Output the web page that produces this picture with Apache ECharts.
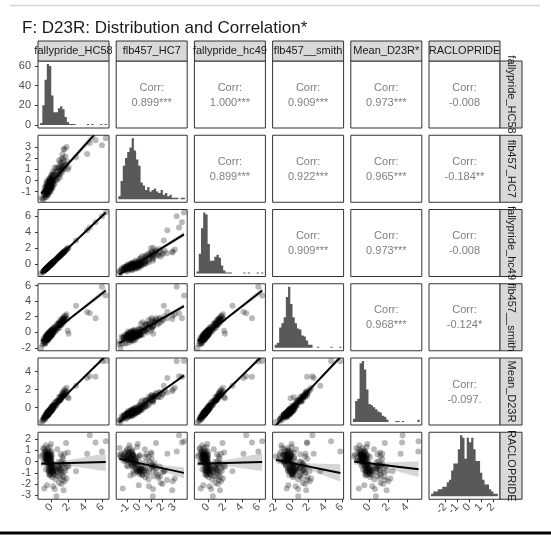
<!DOCTYPE html>
<html>
<head>
<meta charset="utf-8">
<title>F: D23R: Distribution and Correlation*</title>
<script src="https://cdn.jsdelivr.net/npm/echarts@6.0.0/dist/echarts.min.js"></script>
<style>
  html, body { margin: 0; padding: 0; background: #ffffff; }
  #chart { width: 551px; height: 539px; }
</style>
</head>
<body>
<div id="chart"></div>
<script>
// ---- Variables (one value per subject, same order in every array) ----
const fallyprideHC58 = [
  -1.20, -1.03, -0.95, -0.93, -0.86, -0.84, -0.79, -0.78, -0.74, -0.72,
  -0.70, -0.69, -0.66, -0.66, -0.64, -0.61, -0.60, -0.60, -0.57, -0.56,
  -0.55, -0.53, -0.53, -0.52, -0.50, -0.49, -0.49, -0.48, -0.47, -0.46,
  -0.45, -0.45, -0.44, -0.42, -0.42, -0.41, -0.39, -0.39, -0.38, -0.37,
  -0.36, -0.35, -0.35, -0.33, -0.32, -0.32, -0.30, -0.29, -0.29, -0.27,
  -0.26, -0.26, -0.25, -0.23, -0.22, -0.21, -0.20, -0.19, -0.19, -0.17,
  -0.16, -0.15, -0.14, -0.13, -0.13, -0.11, -0.10, -0.09, -0.08, -0.08,
  -0.06, -0.05, -0.04, -0.03, -0.02, -0.01, 0.00, 0.01, 0.02, 0.03,
  0.04, 0.05,
  0.06, 0.07, 0.10, 0.11, 0.13, 0.14, 0.16, 0.18, 0.19, 0.22,
  0.23, 0.25, 0.28, 0.29, 0.33, 0.37, 0.40, 0.46, 0.49, 0.54,
  0.59, 0.61, 0.68, 0.70, 0.76, 0.78, 0.84, 0.85, 0.90, 0.93,
  0.94, 0.99, 1.02, 1.05, 1.08, 1.09, 1.14, 1.15, 1.20, 1.23,
  1.24, 1.29, 1.31, 1.34, 1.37, 1.38, 1.43, 1.47, 1.48, 1.53,
  1.55, 1.61, 1.65, 1.73, 1.78, 1.86,
  1.93, 2.02, 2.90, 4.20, 4.52, 5.20, 5.95, 6.40
];
const flb457HC7 = [
  -1.59, -1.69, -1.04, -1.67, -1.13, -1.41, -0.60, -1.24, -0.89, -1.51,
  -0.64, -1.08, -1.29, -0.84, -0.32, -1.33, -0.87, -1.52, -0.63, -1.02,
  -0.51, -1.09, -0.04, -0.92, -0.70, -1.24, -0.34, -0.83, -1.06, -0.55,
  -1.29, -0.14, -0.73, -0.90, -0.40, -1.09, -0.52, -1.32, -0.16, -0.74,
  -0.58, -0.97, -0.27, -1.10, -0.48, -0.73, 0.14, -0.85, -0.35, -0.72,
  -0.11, -0.96, -0.45, -0.53, 0.09, -1.05, -0.19, -0.63, 0.02, -0.75,
  -0.29, -0.48, 0.28, -0.86, -0.16, -0.58, 0.03, -0.71, 0.20, -0.35,
  -0.12, -0.96, 0.05, -0.54, 0.53, -0.36, -0.10, -0.64, 0.37, -0.36,
  0.05, -0.69,
  0.17, -0.52, 0.52, -0.17, 0.11, -0.63, 0.44, -0.23, 0.83, 0.01,
  0.33, -0.35, 0.69, -0.05, 0.55, -0.31, 1.18, 0.25, 0.79, 0.10,
  1.16, 0.03, 0.82, 0.49, 1.21, 0.14, 1.11, 0.57, 1.83, 0.52,
  1.03, 0.29, 1.62, 0.91, 1.45, 0.61, 1.22, 0.88, 1.99, 1.08,
  1.59, 0.80, 2.37, 1.31, 1.99, 1.06, 2.82, 1.31, 1.78, 1.04,
  2.86, 1.43, 2.18, 1.43, 3.04, 1.73,
  1.00, 1.20, 2.10, 2.40, 3.40, 3.65, 3.20, 3.82
];
const fallyprideHc49 = [
  -1.20, -1.03, -0.95, -0.93, -0.86, -0.84, -0.79, -0.78, -0.74, -0.72,
  -0.70, -0.69, -0.66, -0.66, -0.64, -0.61, -0.60, -0.60, -0.57, -0.56,
  -0.55, -0.53, -0.53, -0.52, -0.50, -0.49, -0.49, -0.48, -0.47, -0.46,
  -0.45, -0.45, -0.44, -0.42, -0.42, -0.41, -0.39, -0.39, -0.38, -0.37,
  -0.36, -0.35, -0.35, -0.33, -0.32, -0.32, -0.30, -0.29, -0.29, -0.27,
  -0.26, -0.26, -0.25, -0.23, -0.22, -0.21, -0.20, -0.19, -0.19, -0.17,
  -0.16, -0.15, -0.14, -0.13, -0.13, -0.11, -0.10, -0.09, -0.08, -0.08,
  -0.06, -0.05, -0.04, -0.03, -0.02, -0.01, 0.00, 0.01, 0.02, 0.03,
  0.04, 0.05,
  0.06, 0.07, 0.10, 0.11, 0.13, 0.14, 0.16, 0.18, 0.19, 0.22,
  0.23, 0.25, 0.28, 0.29, 0.33, 0.37, 0.40, 0.46, 0.49, 0.54,
  0.59, 0.61, 0.68, 0.70, 0.76, 0.78, 0.84, 0.85, 0.90, 0.93,
  0.94, 0.99, 1.02, 1.05, 1.08, 1.09, 1.14, 1.15, 1.20, 1.23,
  1.24, 1.29, 1.31, 1.34, 1.37, 1.38, 1.43, 1.47, 1.48, 1.53,
  1.55, 1.61, 1.65, 1.73, 1.78, 1.86,
  1.93, 2.02, 2.90, 4.20, 4.52, 5.20, 5.95, 6.40
];
const flb457Smith = [
  -1.98, -1.53, -0.94, -1.22, -1.44, -0.67, -1.11, -1.40, -0.80, -1.48,
  -0.86, -0.59, -1.01, -1.31, -0.49, -0.70, -1.04, -0.59, -0.76, -0.29,
  -1.03, -0.56, -0.46, -0.90, -0.73, -0.31, -1.01, -0.55, -0.74, -0.33,
  -0.77, -0.47, -1.01, -0.18, -0.58, -0.37, -0.80, -0.60, -0.29, -0.98,
  -0.41, -0.15, -0.70, -0.58, -0.02, -0.77, -0.30, -0.43, -0.78, -0.11,
  -0.55, -0.30, 0.01, -0.61, -0.30, -0.39, -0.08, -0.72, -0.12, 0.05,
  -0.48, -0.17, -0.36, -0.10, -0.55, 0.22, -0.22, -0.35, 0.11, -0.54,
  -0.07, 0.09, -0.40, -0.18, 0.23, -0.31, 0.05, -0.49, 0.12, 0.33,
  -0.20, 0.01,
  -0.28, 0.23, 0.12, -0.32, 0.40, -0.04, 0.23, -0.19, 0.42, 0.00,
  0.61, 0.14, -0.03, 0.43, 0.38, 0.13, 0.71, 0.33, 0.71, 0.17,
  0.73, 0.45, 1.08, 0.46, 0.87, 1.10, 0.57, 1.08, 1.29, 0.92,
  0.58, 1.29, 1.17, 0.91, 1.59, 1.00, 1.36, 0.97, 1.58, 1.31,
  0.98, 1.58, 1.81, 1.29, 1.58, 1.84, 1.69, 1.29, 1.85, 1.61,
  2.13, 1.50, 2.10, 1.79, 2.30, 1.69,
  0.20, -0.20, 3.40, 2.60, 2.45, 1.80, 5.83, 4.70
];
const meanD23R = [
  -1.58, -1.48, -1.11, -1.35, -1.22, -1.08, -0.96, -1.20, -0.93, -1.27,
  -0.86, -0.90, -1.05, -1.01, -0.64, -0.95, -0.92, -0.97, -0.76, -0.73,
  -0.79, -0.81, -0.50, -0.85, -0.74, -0.76, -0.71, -0.71, -0.82, -0.57,
  -0.88, -0.49, -0.79, -0.60, -0.58, -0.70, -0.65, -0.81, -0.41, -0.75,
  -0.55, -0.58, -0.54, -0.72, -0.40, -0.67, -0.29, -0.59, -0.55, -0.46,
  -0.41, -0.57, -0.35, -0.52, -0.27, -0.60, -0.27, -0.56, -0.22, -0.38,
  -0.39, -0.35, -0.19, -0.42, -0.36, -0.26, -0.20, -0.43, -0.06, -0.38,
  -0.18, -0.36, -0.22, -0.31, 0.10, -0.29, -0.11, -0.40, 0.04, -0.09,
  -0.12, -0.26,
  -0.10, -0.14, 0.12, -0.18, 0.10, -0.21, 0.16, -0.12, 0.33, 0.01,
  0.27, -0.03, 0.22, 0.15, 0.32, 0.04, 0.61, 0.29, 0.55, 0.24,
  0.71, 0.34, 0.75, 0.51, 0.84, 0.63, 0.77, 0.77, 1.19, 0.76,
  0.81, 0.82, 1.16, 0.92, 1.26, 0.88, 1.17, 0.98, 1.46, 1.16,
  1.21, 1.19, 1.69, 1.27, 1.55, 1.37, 1.83, 1.34, 1.62, 1.38,
  2.02, 1.50, 1.88, 1.64, 2.23, 1.75,
  1.15, 1.05, 2.45, 3.30, 3.50, 3.45, 5.15, 5.18
];
const raclopride = [
  0.45, 0.60, 1.10, 1.20, 0.10, -2.40, 0.60, 0.80, 0.25, 0.35,
  0.90, 0.95, 0.05, 1.45, -0.70, 0.30, 0.65, 0.70, 0.05, 0.15,
  0.55, 0.50, -2.10, 0.60, 0.40, 0.30, 0.00, 1.20, -0.35, 0.20,
  0.65, 0.40, -0.10, 0.85, 0.45, 0.30, 0.50, 0.55, -0.80, 0.10,
  1.00, 0.50, -0.05, 0.45, -1.10, 0.25, -0.65, 0.75, -0.25, 0.35,
  -0.85, 0.05, -0.40, 0.60, -0.90, 0.15, 1.30, -0.35, 0.50, -1.25,
  0.20, -0.15, -1.20, 0.80, -0.60, 0.30, -0.75, 0.40, -1.05, 0.10,
  1.55, -0.45, -0.05, 0.65, 0.40, 0.25, -0.30, 0.90, -0.85, 0.00,
  0.55, -0.20,
  -0.65, -0.85, -1.40, -0.30, -0.65, -0.40, -0.90, -0.95, -2.20, -1.10,
  -0.55, -0.25, -1.15, -0.80, -0.75, -0.55, -2.45, -1.20, -1.60, -0.70,
  -3.08, -0.90, -0.95, 1.10, -1.30, -0.45, -0.50, -0.05, -1.90, -0.60,
  -0.35, -0.80, -1.45, -0.65, -1.00, 0.65, -0.80, 0.00, -2.00, -0.25,
  -1.20, 0.45, -1.65, -0.40, -0.95, 0.25, -2.55, -0.15, -1.35, 0.70,
  -1.75, -0.60, -0.85, 1.65, -1.50, -0.45,
  0.80, -0.42, -0.86, 0.70, 2.33, 1.70, 0.90, 1.80
];

// ---- Histogram counts on the diagonal (30 bins per variable) ----
const countsHC58 = [2, 20, 46, 62, 60, 30, 13, 13, 17, 19, 16, 8, 3, 1, 1, 1, 0, 0, 0, 0, 0, 1, 0, 1, 0, 0, 0, 1, 0, 1];
const countsHC7 = [2, 12, 22, 27, 31, 34, 40, 32, 26, 22, 11, 9, 6, 8, 5, 6, 7, 5, 4, 6, 3, 4, 2, 3, 1, 1, 1, 0, 1, 1];
const countsHc49 = [2, 20, 46, 62, 60, 30, 13, 13, 17, 19, 16, 8, 3, 1, 1, 1, 0, 0, 0, 0, 0, 1, 0, 1, 0, 0, 0, 1, 0, 1];
const countsSmith = [3, 5, 20, 24, 30, 50, 60, 43, 30, 24, 19, 18, 12, 11, 7, 3, 3, 0, 0, 1, 0, 0, 0, 0, 0, 1, 0, 0, 0, 1];
const countsMean = [3, 20, 22, 56, 58, 50, 31, 17, 16, 14, 12, 10, 9, 6, 5, 2, 0, 0, 0, 1, 1, 0, 1, 0, 0, 0, 0, 0, 0, 2];
const countsRaclopride = [1, 2, 2, 3, 3, 4, 4, 6, 7, 11, 14, 14, 20, 26, 25, 16, 25, 23, 25, 20, 15, 15, 10, 7, 5, 5, 3, 2, 1, 1];

// ---- Labels ----
const columnLabels = ['fallypride_HC58', 'flb457_HC7', 'fallypride_hc49', 'flb457__smith', 'Mean_D23R*', 'RACLOPRIDE'];
const rowLabels = ['fallypride_HC58', 'flb457_HC7', 'fallypride_hc49', 'flb457__smith', 'Mean_D23R', 'RACLOPRIDE'];
// upper triangle, row by row
const corrLabels = [
  '0.899***', '1.000***', '0.909***', '0.973***', '-0.008',
  '0.899***', '0.922***', '0.965***', '-0.184**',
  '0.909***', '0.973***', '-0.008',
  '0.968***', '-0.124*',
  '-0.097.'
];
const ticksHC58 = [0, 2, 4, 6];
const ticksHC7 = [-1, 0, 1, 2, 3];
const ticksHc49 = [0, 2, 4, 6];
const ticksSmith = [-2, 0, 2, 4, 6];
const ticksMean = [0, 2, 4];
const ticksRaclopride = [-3, -2, -1, 0, 1, 2];
const ticksCount = [0, 20, 40, 60];
const titleText = 'F: D23R: Distribution and Correlation*';

// ---- Layout of the 6 x 6 panel matrix ----
const N = 6;
const LEFT0 = 38, TOP0 = 61, PW = 71, PH = 67, DX = 78.2, DY = 74.25;
const STRIP_H = 20, STRIP_W = 22;
const FONT = '"Liberation Sans", Arial, Helvetica, sans-serif';
const T_CRIT = 1.977; // two-sided 95%, df = n - 2
const BAR_FILL = '#595959';

const vars = [fallyprideHC58, flb457HC7, fallyprideHc49, flb457Smith, meanD23R, raclopride];
const counts = [countsHC58, countsHC7, countsHc49, countsSmith, countsMean, countsRaclopride];
const ticks = [ticksHC58, ticksHC7, ticksHc49, ticksSmith, ticksMean, ticksRaclopride];

function extent(a) { return [Math.min(...a), Math.max(...a)]; }
function paddedRange(a) {
  const [lo, hi] = extent(a);
  const pad = (hi - lo) * 0.05;
  return [lo - pad, hi + pad];
}
function linearFit(xs, ys) {
  const n = xs.length;
  let mx = 0, my = 0;
  for (let k = 0; k < n; k++) { mx += xs[k]; my += ys[k]; }
  mx /= n; my /= n;
  let sxx = 0, sxy = 0;
  for (let k = 0; k < n; k++) { sxx += (xs[k] - mx) ** 2; sxy += (xs[k] - mx) * (ys[k] - my); }
  const b = sxy / sxx, a = my - b * mx;
  let sse = 0;
  for (let k = 0; k < n; k++) sse += (ys[k] - a - b * xs[k]) ** 2;
  return { a, b, n, mx, sxx, s: Math.sqrt(sse / (n - 2)) };
}

const ranges = vars.map(paddedRange);
const grids = [], xAxes = [], yAxes = [], series = [], graphics = [];

// axes sit on the panel edge (never on the other axis' zero)
function axisCfg(dim, g, range, show, values, rotate) {
  const cfg = {
    type: 'value', gridIndex: g, min: range[0], max: range[1],
    position: dim === 'x' ? 'bottom' : 'left',
    axisLine: { show: false, onZero: false }, splitLine: { show: false },
    axisTick: { show: false }, axisLabel: { show: false }
  };
  if (show) {
    cfg.axisTick = { show: true, inside: false, customValues: values, length: 3, lineStyle: { color: '#333333', width: 1 } };
    cfg.axisLabel = {
      show: true, inside: false, customValues: values, rotate: rotate, color: '#4d4d4d',
      fontSize: 11, fontFamily: FONT, margin: dim === 'x' ? 6 : 7
    };
  }
  return cfg;
}

// one filled step outline per histogram
function histogramItem(bins) {
  return function (params, api) {
    if (params.dataIndex !== 0) return null;
    const pts = [api.coord([bins[0][0], 0])];
    bins.forEach(b => {
      pts.push(api.coord([b[0], b[2]]));
      pts.push(api.coord([b[1], b[2]]));
    });
    pts.push(api.coord([bins[bins.length - 1][1], 0]));
    return { type: 'polygon', shape: { points: pts }, style: { fill: BAR_FILL } };
  };
}
function bandItem(pts) {
  return function (params, api) {
    if (params.dataIndex !== 0) return null;
    const upper = pts.map(p => api.coord([p[0], p[2]]));
    const lower = pts.slice().reverse().map(p => api.coord([p[0], p[1]]));
    return { type: 'polygon', shape: { points: upper.concat(lower) }, style: { fill: 'rgba(153,153,153,0.4)' } };
  };
}
function fitLineItem(pts) {
  return function (params, api) {
    if (params.dataIndex !== 0) return null;
    return {
      type: 'polyline', shape: { points: pts.map(p => api.coord(p)) },
      style: { stroke: '#000000', lineWidth: 2, fill: null }
    };
  };
}

let corrIdx = 0;
for (let i = 0; i < N; i++) {
  for (let j = 0; j < N; j++) {
    const g = i * N + j;
    const left = LEFT0 + j * DX, top = TOP0 + i * DY;
    grids.push({
      left: left, top: top, width: PW, height: PH, show: true,
      borderColor: '#333333', borderWidth: 1, backgroundColor: '#ffffff',
      outerBoundsMode: 'none'
    });
    let xr = [0, 1], yr = [0, 1];
    if (i >= j) xr = ranges[j];
    if (i > j) yr = ranges[i];
    if (i === j) { const m = Math.max(...counts[i]); yr = [-0.05 * m, 1.05 * m]; }
    xAxes.push(axisCfg('x', g, xr, i === N - 1, ticks[j], 45));
    yAxes.push(axisCfg('y', g, yr, j === 0, (i === 0 && j === 0) ? ticksCount : ticks[i], 0));

    if (i === j) {
      // 30 bins centred from the minimum to the maximum value
      const [lo, hi] = extent(vars[i]);
      const w = (hi - lo) / 29;
      const bins = counts[i].map((c, k) => [lo + (k - 0.5) * w, lo + (k + 0.5) * w, c]);
      series.push({
        type: 'custom', xAxisIndex: g, yAxisIndex: g, silent: true, clip: true,
        data: bins, encode: { x: [0, 1], y: 2 },
        renderItem: histogramItem(bins)
      });
    } else if (i > j) {
      const xs = vars[j], ys = vars[i];
      series.push({
        type: 'scatter', xAxisIndex: g, yAxisIndex: g, silent: true, clip: true,
        data: xs.map((v, k) => [v, ys[k]]),
        symbol: 'circle', symbolSize: 6,
        itemStyle: { color: 'rgba(0,0,0,0.34)' }
      });
      const fit = linearFit(xs, ys);
      const [x0, x1] = extent(xs);
      const band = [];
      for (let k = 0; k <= 40; k++) {
        const x = x0 + (x1 - x0) * k / 40;
        const yhat = fit.a + fit.b * x;
        const se = fit.s * Math.sqrt(1 / fit.n + (x - fit.mx) ** 2 / fit.sxx);
        band.push([x, yhat - T_CRIT * se, yhat + T_CRIT * se]);
      }
      series.push({
        type: 'custom', xAxisIndex: g, yAxisIndex: g, silent: true, clip: true,
        data: band, encode: { x: 0, y: [1, 2] },
        renderItem: bandItem(band)
      });
      const ends = [[x0, fit.a + fit.b * x0], [x1, fit.a + fit.b * x1]];
      series.push({
        type: 'custom', xAxisIndex: g, yAxisIndex: g, silent: true, clip: true,
        data: ends, encode: { x: 0, y: 1 },
        renderItem: fitLineItem(ends)
      });
    } else {
      const cx = left + PW / 2, cy = top + PH / 2;
      graphics.push({
        type: 'text', x: cx, y: cy - 7, z: 20, silent: true,
        style: { text: 'Corr:', fill: '#7f7f7f', font: '11px ' + FONT, align: 'center', verticalAlign: 'middle' }
      });
      graphics.push({
        type: 'text', x: cx, y: cy + 8, z: 20, silent: true,
        style: { text: corrLabels[corrIdx++], fill: '#7f7f7f', font: '11px ' + FONT, align: 'center', verticalAlign: 'middle' }
      });
    }
  }
}

// strips: column names on top, row names on the right
for (let j = 0; j < N; j++) {
  const left = LEFT0 + j * DX;
  graphics.push({
    type: 'rect', z: 20, silent: true,
    shape: { x: left, y: TOP0 - STRIP_H, width: PW, height: STRIP_H },
    style: { fill: '#d9d9d9', stroke: '#333333', lineWidth: 1 }
  });
  graphics.push({
    type: 'text', z: 21, silent: true, x: left + PW / 2, y: TOP0 - STRIP_H / 2,
    style: { text: columnLabels[j], fill: '#1a1a1a', font: '11px ' + FONT, align: 'center', verticalAlign: 'middle' }
  });
}
const stripX = LEFT0 + (N - 1) * DX + PW;
for (let i = 0; i < N; i++) {
  const top = TOP0 + i * DY;
  graphics.push({
    type: 'rect', z: 20, silent: true,
    shape: { x: stripX, y: top, width: STRIP_W, height: PH },
    style: { fill: '#d9d9d9', stroke: '#333333', lineWidth: 1 }
  });
  graphics.push({
    type: 'text', z: 21, silent: true, x: stripX + STRIP_W / 2, y: top + PH / 2, rotation: -Math.PI / 2,
    style: { text: rowLabels[i], fill: '#1a1a1a', font: '11px ' + FONT, align: 'center', verticalAlign: 'middle' }
  });
}

// title and frame rules
graphics.push({
  type: 'text', z: 20, silent: true, x: 22, y: 28,
  style: { text: titleText, fill: '#1a1a1a', font: '17px ' + FONT, align: 'left', verticalAlign: 'middle' }
});
graphics.push({
  type: 'line', z: 20, silent: true, shape: { x1: 10, y1: 5.5, x2: 540, y2: 5.5 },
  style: { stroke: '#d4d4d4', lineWidth: 1.5 }
});
graphics.push({
  type: 'line', z: 20, silent: true, shape: { x1: 0, y1: 533, x2: 551, y2: 533 },
  style: { stroke: '#000000', lineWidth: 3 }
});

const chart = echarts.init(document.getElementById('chart'), null, { renderer: 'canvas', width: 551, height: 539 });
chart.setOption({
  animation: false,
  backgroundColor: '#ffffff',
  grid: grids,
  xAxis: xAxes,
  yAxis: yAxes,
  series: series,
  graphic: { elements: graphics }
});
</script>
</body>
</html>
